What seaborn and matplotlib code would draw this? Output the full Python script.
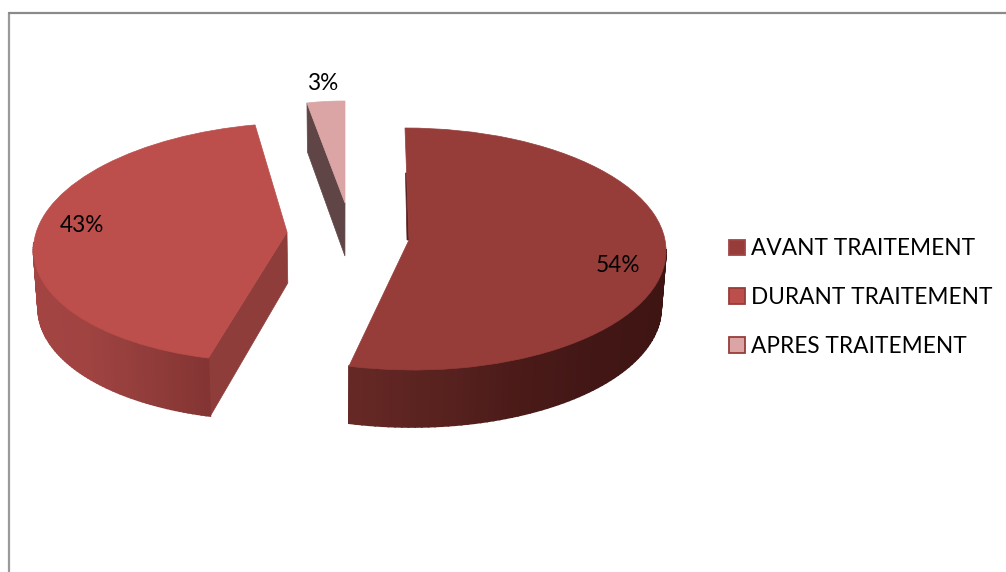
import numpy as np
import matplotlib
matplotlib.use('Agg')
import matplotlib.pyplot as plt
from matplotlib.patches import Patch
from matplotlib.transforms import Transform
import seaborn as sns

labels = ['AVANT TRAITEMENT', 'DURANT TRAITEMENT', 'APRES TRAITEMENT']
shares = [54, 43, 3]
top_colors = ['#963D3A', '#BC4E4C', '#DBA5A5']
edge_colors = ['#A04545', '#963D3A', '#963D3A']

# screen geometry of each exploded slice, in pixels
slice_geo = [
    dict(cx=409, cy=249, a=257, b=121, s=-4, apex=(409, 240), depth=57, apex_depth=50),
    dict(cx=286.7, cy=242.3, a=252.7, b=119.5, s=16, apex=(287, 232), depth=58, apex_depth=51),
    dict(cx=345, cy=212, a=203, b=111, s=0, apex=(345, 203), depth=49, apex_depth=53),
]
# (position along the visible rim from 0 to 1, colour)
rim_shades = [
    [(0, '#3E1413'), (0.4, '#411615'), (0.62, '#4A1A18'), (0.78, '#56211E'), (1, '#662825')],
    [(0, '#A54544'), (0.55, '#A04341'), (0.75, '#953F3D'), (0.92, '#8A3836'), (1, '#843533')],
    None,
]
wall_colors = ['#55201E', '#8F3D3B', '#5F4546']
label_pos = [(618, 265), (82, 226), (323, 84)]


class SliceProjection(Transform):
    input_dims = 2
    output_dims = 2

    def __init__(self, geo):
        super().__init__()
        self.geo = geo

    def transform_non_affine(self, values):
        g = self.geo
        u, v = values[:, 0], values[:, 1]
        x = g['cx'] + g['a'] * u + g['s'] * v
        y = g['cy'] - g['b'] * v
        at_apex = np.hypot(u, v) < 0.01
        x = np.where(at_apex, g['apex'][0], x)
        y = np.where(at_apex, g['apex'][1], y)
        return np.column_stack([x, y])


def lean(x):
    # lower edge of a wall leans toward the middle of the picture
    return x + 0.015 * (340 - x)


sns.set_theme(style='white')
plt.rcParams['font.family'] = ['Lato', 'DejaVu Sans']

fig = plt.figure(figsize=(10.06, 5.72), dpi=100)
ax = fig.add_axes([0, 0, 1, 1])

wedges, _, autotexts = ax.pie(shares, colors=sns.color_palette(top_colors), startangle=90,
                              counterclock=False, autopct='%.0f%%',
                              textprops=dict(fontsize=16.3, color='black'))
ax.set_aspect('auto')
ax.set_xlim(0, 1006)
ax.set_ylim(572, 0)

# walls and rims come from the same angles as the pie slices
# counterclock=False gives angles running down from 90 to -270
wall_angle = [wedges[0].theta2, wedges[1].theta2, wedges[2].theta2]
rim_angles = [(0, wedges[0].theta1), (-180, wedges[1].theta2), None]

for i, w in enumerate(wedges):
    g = slice_geo[i]
    proj = SliceProjection(g)
    w.set_transform(proj + ax.transData)
    w.set_zorder(5)
    w.set_edgecolor(top_colors[i])
    w.set_linewidth(0.5)

    end = np.radians(wall_angle[i])
    p = proj.transform_non_affine(np.array([[np.cos(end), np.sin(end)]]))[0]
    ax_, ay_ = g['apex']
    wall_x = [p[0], ax_, lean(ax_), lean(p[0])]
    wall_y = [p[1], ay_, ay_ + g['apex_depth'], p[1] + g['depth']]
    if i == 0:
        # the far wall of the big slice only shows as a thin dark sliver
        wall_x = [p[0] + 1.5, ax_, ax_ - 2, p[0] + 0.5]
        wall_y = [p[1] + 45, ay_, ay_, p[1] + 45]
    ax.fill(wall_x, wall_y, color=wall_colors[i], lw=0.5, zorder=2)

    if rim_angles[i] is None:
        continue
    visible = np.linspace(rim_angles[i][0], rim_angles[i][1], 70)
    pos = [s[0] for s in rim_shades[i]]
    rgb = np.array([matplotlib.colors.to_rgb(s[1]) for s in rim_shades[i]])
    for k in range(len(visible) - 1):
        ang = np.radians(visible[k:k + 2])
        q = proj.transform_non_affine(np.column_stack([np.cos(ang), np.sin(ang)]))
        frac = k / (len(visible) - 2)
        col = [np.interp(frac, pos, rgb[:, c]) for c in range(3)]
        ax.fill([q[0, 0], q[1, 0], lean(q[1, 0]), lean(q[0, 0])],
                [q[0, 1], q[1, 1], q[1, 1] + g['depth'], q[0, 1] + g['depth']],
                color=col, lw=1.2, zorder=3)

for txt, pos in zip(autotexts, label_pos):
    txt.set_position(pos)
    txt.set_ha('center')
    txt.set_va('center')
    txt.set_zorder(6)

# chart frame, open on the right and at the bottom
ax.plot([9, 9], [572, 13], color='#9A9A9A', lw=1.6, zorder=1)
ax.plot([9, 1006], [13, 13], color='#8A8A8A', lw=1.6, zorder=1)

handles = [Patch(facecolor=c, edgecolor=e, linewidth=1.3) for c, e in zip(top_colors, edge_colors)]
ax.legend(handles, labels, loc='center left', bbox_to_anchor=(0.7247, 0.4795), frameon=False,
          fontsize=16.3, handlelength=0.7, handleheight=0.7, handletextpad=0.27,
          labelspacing=1.23, borderpad=0, borderaxespad=0, labelcolor='black')

fig.savefig('out.png', dpi=100)
